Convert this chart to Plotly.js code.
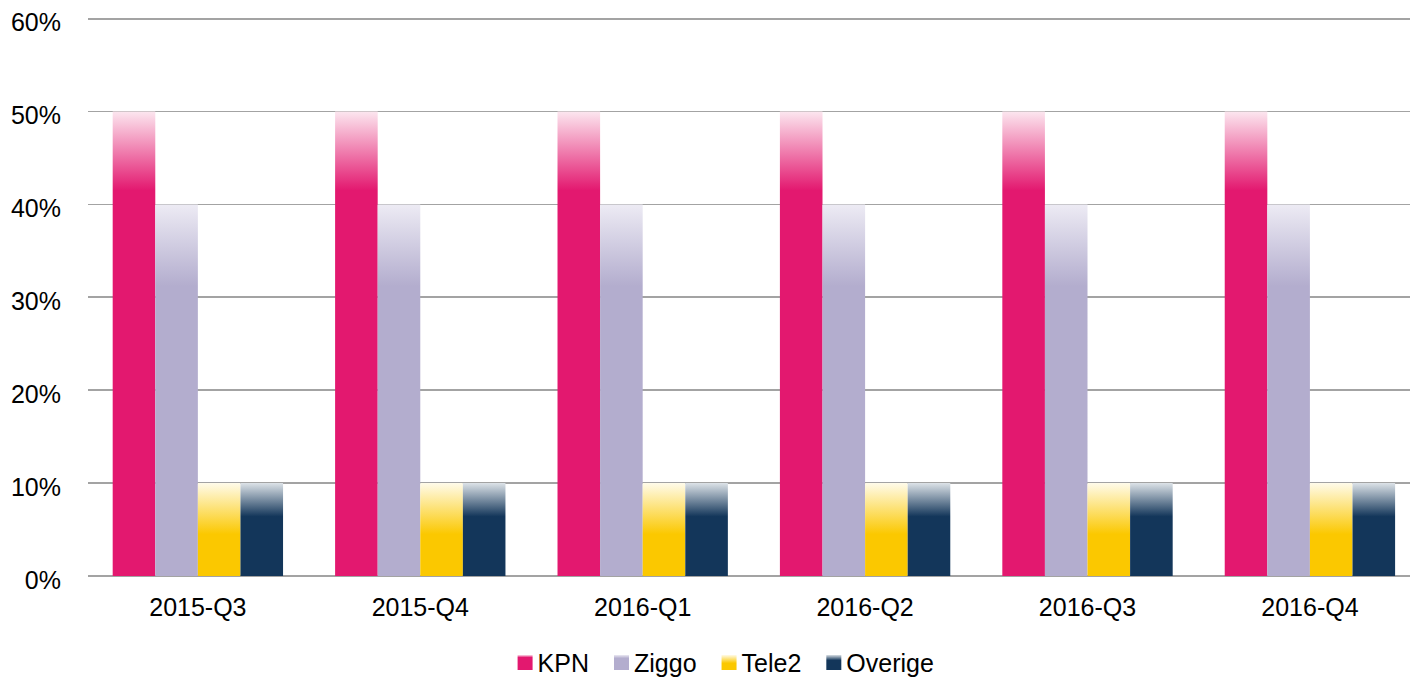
<!DOCTYPE html>
<html>
<head>
<meta charset="utf-8">
<script src="https://cdn.plot.ly/plotly-3.0.1.min.js"></script>
<style>html,body{margin:0;padding:0;background:#fff;}#chart{width:1410px;height:677px;}</style>
</head>
<body>
<div id="chart"></div>
<script>
const categories = ['2015-Q3','2015-Q4','2016-Q1','2016-Q2','2016-Q3','2016-Q4'];
const kpn     = [0.50, 0.50, 0.50, 0.50, 0.50, 0.50];
const ziggo   = [0.40, 0.40, 0.40, 0.40, 0.40, 0.40];
const tele2   = [0.10, 0.10, 0.10, 0.10, 0.10, 0.10];
const overige = [0.10, 0.10, 0.10, 0.10, 0.10, 0.10];
const seriesNames = ['KPN','Ziggo','Tele2','Overige'];

const colors = ['#E3186F','#B3ADCE','#FBC800','#13365A'];
const topColors = ['#FCE6EF','#EDEBF4','#FFFBEA','#DCE2E7'];
const fadeStops = [0.17, 0.22, 0.55, 0.36];

const values = [kpn, ziggo, tele2, overige];
const traces = values.map((v,i)=>({
  type:'bar', x:categories, y:v, name:seriesNames[i],
  marker:{color:colors[i], line:{width:0}},
  hoverinfo:'skip'
}));

const layout = {
  width:1410, height:677,
  margin:{l:88, r:0, t:17, b:101, autoexpand:false},
  paper_bgcolor:'#fff', plot_bgcolor:'#fff',
  font:{family:'Liberation Sans, Arial, sans-serif', size:25, color:'#000'},
  barmode:'group', bargap:0.234, bargroupgap:0,
  xaxis:{type:'category', range:[-0.494, 5.45], showgrid:false, showline:false, zeroline:false, ticks:'', automargin:false, ticklabelstandoff:14, tickfont:{size:25}},
  yaxis:{range:[0,0.6018], tickvals:[0,0.1,0.2,0.3,0.4,0.5,0.6], tickformat:'.0%', showgrid:true, gridcolor:'#A3A3A3', gridwidth:1.8, automargin:false,
         zeroline:true, zerolinecolor:'#A3A3A3', zerolinewidth:1.8, showline:false, ticks:'', ticklabelstandoff:26, tickfont:{size:25}},
  showlegend:true,
  legend:{orientation:'h', x:0.477, xanchor:'center', y:-0.155, yanchor:'middle', font:{size:25}, itemwidth:30, traceorder:'normal'}
};

Plotly.newPlot('chart', traces, layout, {displayModeBar:false, staticPlot:true}).then(gd=>{
  const svg = gd.querySelector('svg.main-svg');
  let defs = svg.querySelector('defs');
  const NS = 'http://www.w3.org/2000/svg';
  if(!defs){ defs = document.createElementNS(NS,'defs'); svg.insertBefore(defs, svg.firstChild); }
  colors.forEach((c,i)=>{
    const g = document.createElementNS(NS,'linearGradient');
    g.setAttribute('id','grad'+i);
    g.setAttribute('x1','0'); g.setAttribute('y1','0'); g.setAttribute('x2','0'); g.setAttribute('y2','1');
    [[0,topColors[i]],[fadeStops[i],c],[1,c]].forEach(([o,col])=>{
      const s = document.createElementNS(NS,'stop');
      s.setAttribute('offset',o); s.setAttribute('stop-color',col);
      g.appendChild(s);
    });
    defs.appendChild(g);
  });
  gd.querySelectorAll('.barlayer .trace').forEach((t,i)=>{
    t.querySelectorAll('path').forEach(p=>{ p.style.fill = 'url(#grad'+i+')'; });
  });
  gd.querySelectorAll('.legend .traces').forEach((t,i)=>{
    t.querySelectorAll('.legendpoints path').forEach(p=>{
      p.setAttribute('d','M15,7.5H0V-7.5H15Z');
      p.style.fill = 'url(#grad'+i+')'; p.style.stroke='none';
    });
  });
  gd.querySelectorAll('.ytick text').forEach(t=>{
    t.setAttribute('transform', ((t.getAttribute('transform')||'') + ' translate(0,4)').trim());
  });
});
</script>
</body>
</html>
